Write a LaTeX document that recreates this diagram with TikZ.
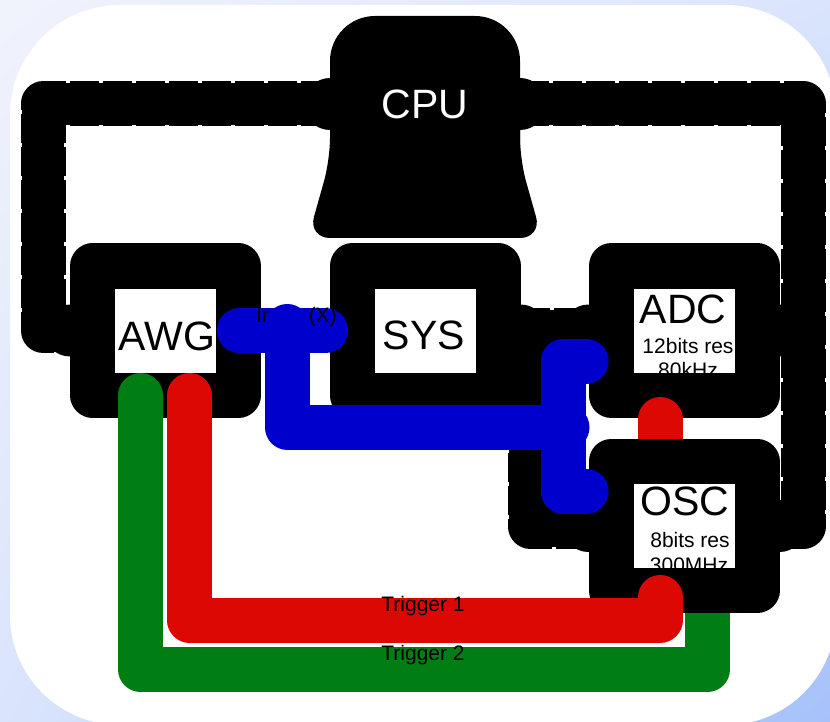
\documentclass[tikz,border=0pt]{standalone}
\usepackage{fontspec}
\setmainfont{Liberation Sans}
\usetikzlibrary{shadings}
\pgfdeclarelayer{back}
\pgfdeclarelayer{wires}
\pgfdeclarelayer{front}
\pgfdeclarelayer{top}
\pgfsetlayers{back,wires,main,front,top}
\definecolor{bgA}{RGB}{241,243,252}
\definecolor{bgB}{RGB}{218,228,252}
\definecolor{bgC}{RGB}{166,194,250}
\definecolor{wireblue}{RGB}{0,0,205}
\definecolor{wirered}{RGB}{220,8,4}
\definecolor{wiregreen}{RGB}{0,126,20}
\tikzset{
  unit/.style={draw=black, fill=white, line width=45pt, line join=round,
    minimum width=146pt, minimum height=129pt, inner sep=0pt},
  cpubody/.style={text=white, font=\fontsize{41}{48}\selectfont,
    minimum width=190pt, minimum height=40pt, inner sep=0pt, outer sep=0pt},
  bigtext/.style={font=\fontsize{41}{48}\selectfont, inner sep=0pt, anchor=base},
  smalltext/.style={font=\fontsize{21}{25}\selectfont, inner sep=0pt, anchor=base},
  % a thick cable whose edges show shallow notches along its length
  bus/.style={draw=black, line width=42pt, line join=round, line cap=round,
    postaction={draw=black, line width=45pt, line cap=butt, line join=round,
      dash pattern=on 29pt off 4pt}},
  wire/.style={line width=45pt, line join=round, line cap=round},
}
\begin{document}
\begin{tikzpicture}[x=1pt,y=-1pt]
\useasboundingbox (0,0) rectangle (830,722);

% backdrop and white panel
\begin{pgfonlayer}{back}
  \shade[upper left=bgA, upper right=bgB, lower left=bgB, lower right=bgC]
    (0,0) rectangle (830,722);
  \fill[white, rounded corners=110pt] (10,5) rectangle (836,725);
\end{pgfonlayer}

% processor label and the instrument boxes
\node[cpubody] (cpu) at (425,104) {CPU};
\node[unit] (awg) at (165.5,330.5) {};
\node[unit] (sys) at (425,330.5) {};
\node[unit] (adc) at (684,330.5) {};
\node[bigtext] (awgname) at (167,350) {AWG};
\node[bigtext] (sysname) at (424,349.5) {SYS};
\node[bigtext] (adcname) at (683,323.5) {ADC};
\node[smalltext] (adcres) at (688,353) {12bits res};
\node[smalltext] (adcrate) at (688,377) {80kHz};

% red link between ADC and OSC, green trigger (both pass under OSC)
\coordinate (trig2) at (423,669.5);
\begin{pgfonlayer}{front}
  \node[unit] (osc) at (684,526) {};
  \node[bigtext] (oscname) at (685,515) {OSC};
  \node[smalltext] (oscres) at (690,547) {8bits res};
  \node[smalltext] (oscrate) at (689,572) {300MHz};
\end{pgfonlayer}
\draw[wire, draw=wirered] ([shift={(-24,2)}]adc.south) -- ([xshift=-24pt]osc.north);
\draw[wire, draw=wiregreen] ([shift={(-25,-22)}]awg.south) |- (trig2)
  -| ([shift={(23.5,-23)}]osc.south);

% black buses and the processor body
\begin{pgfonlayer}{wires}
  \coordinate (lcorner) at (43,104);
  \coordinate (rcorner) at (803.5,104);
  \coordinate (sysdrop) at (530,330.5);
  \draw[bus] (cpu.west) -- (lcorner) |- (awg.west);
  \draw[bus] (cpu.east) -- (rcorner) |- (osc.east);
  \draw[bus] (rcorner |- adc.east) -- (adc.east);
  \draw[bus] (sys.east) -- (adc.west);
  \draw[bus] (sys.east) -- (sysdrop) |- (osc.west);
  \foreach \e in {cpu.west, cpu.east, awg.west, osc.east, adc.east,
                  sys.east, adc.west, osc.west}
    \fill (\e) circle (26pt);
  \fill[rounded corners=45pt] (330,16) rectangle (520,200);
  \fill[rounded corners=22pt] (330,100) -- (520,100) -- (520,160) -- (542,238)
    -- (308,238) -- (330,160) -- cycle;
\end{pgfonlayer}

% trigger 1, labels and the blue input bus
\begin{pgfonlayer}{top}
  \coordinate (trig1) at (423,620);
  \draw[wire, draw=wirered] ([shift={(24,-22)}]awg.south) |- (trig1)
    -| ([shift={(-24,-15.5)}]osc.south);
  \node[smalltext] (t1label) at (423,611) {Trigger 1};
  \node[smalltext] (t2label) at (423,660) {Trigger 2};
  \coordinate (inEnd) at (325.5,330.5);
  \coordinate (inDrop) at (287,326.5);
  \coordinate (busJ) at (567,427);
  \draw[wire, draw=wireblue] ([xshift=-21.5pt]awg.east) -- (inEnd);
  \node[smalltext] (inlabel) at (296.5,322) {Input (X)};
  \draw[wire, draw=wireblue] (inDrop) |- (busJ);
  \draw[wire, draw=wireblue] ([shift={(-2.5,30.5)}]adc.west) -| ([xshift=-4pt]busJ)
    |- ([shift={(-2.5,-35)}]osc.west);
\end{pgfonlayer}
\end{tikzpicture}
\end{document}
